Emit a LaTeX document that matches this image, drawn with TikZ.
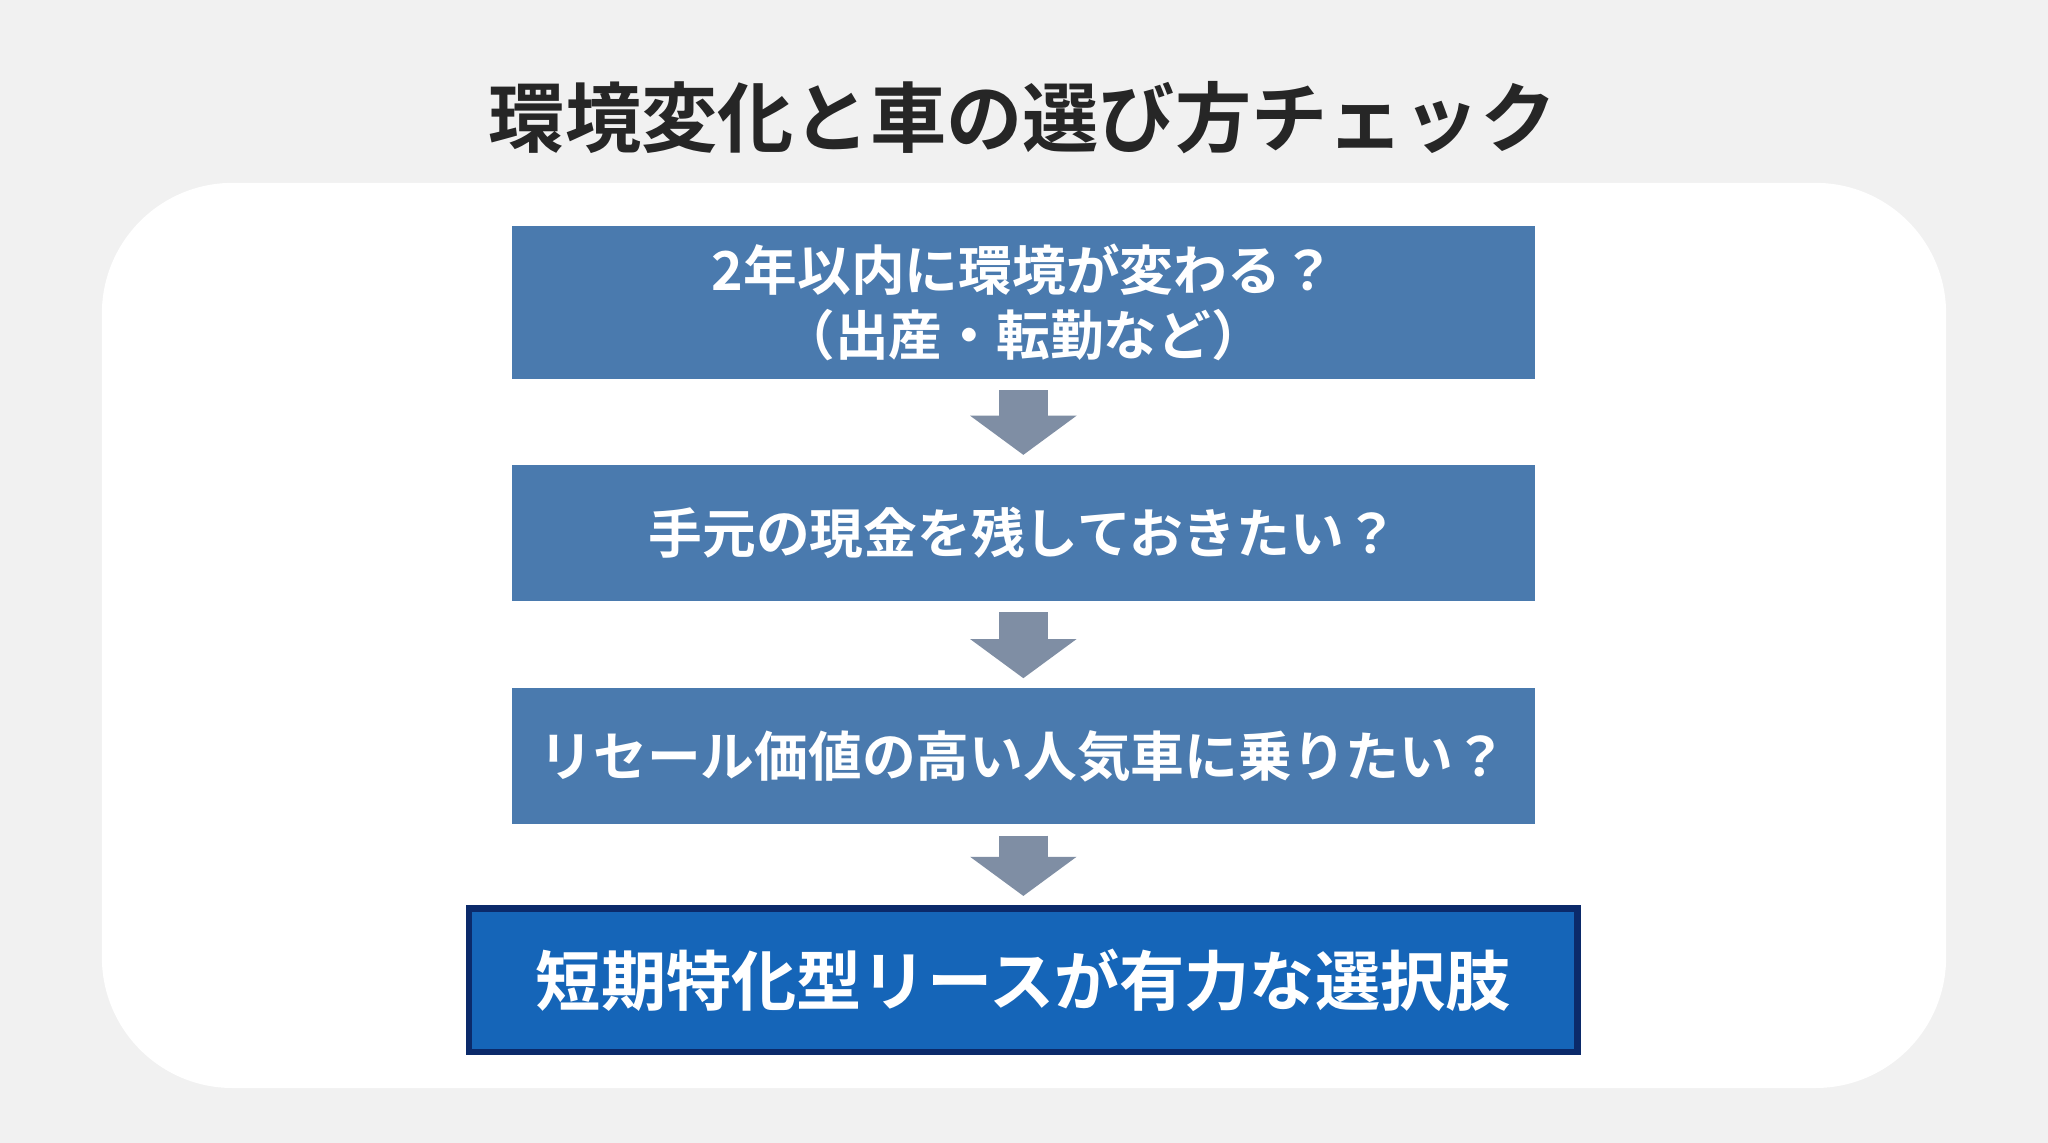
\documentclass[tikz,border=0pt]{standalone}
\usepackage{fontspec}
\setmainfont{Noto Sans CJK JP}[BoldFont={Noto Sans CJK JP Bold}]
\usetikzlibrary{arrows.meta,positioning}
\definecolor{bgGray}{HTML}{F1F1F1}
\definecolor{stepBlue}{HTML}{4A7AAE}
\definecolor{finalBlue}{HTML}{1565B8}
\definecolor{finalEdge}{HTML}{0B2A6A}
\definecolor{arrowGray}{HTML}{7F8EA4}
\definecolor{titleInk}{HTML}{262626}
\begin{document}
\begin{tikzpicture}[x=0.01cm,y=-0.01cm]
        \tikzset{stepbox/.style = {fill=stepBlue,text=white,font=\bfseries\fontsize{11.7}{14.2}\selectfont,
            minimum width=7.83cm,align=center,inner sep=0pt},
          flow/.style = {arrowGray,line width=0.38cm,shorten <=0.08cm,shorten >=0.07cm,
            -{Triangle[width=0.8cm,length=0.3cm]}}};
        \fill[bgGray] (0,0) rectangle (1568,875);
        \fill[white,rounded corners=1cm] (78,140) rectangle (1490,833);
        \node[font=\bfseries\fontsize{16.6}{20}\selectfont,text=titleInk] (title) at (783,90) {環境変化と車の選び方チェック};
        % questions
        \node[stepbox,minimum height=1.17cm] (q1) at (783.5,231.5) {2年以内に環境が変わる？\\（出産・転勤など）};
        \node[stepbox,minimum height=1.04cm] (q2) at (783.5,408) {手元の現金を残しておきたい？};
        \node[stepbox,minimum height=1.04cm] (q3) at (783.5,579) {リセール価値の高い人気車に乗りたい？};
        \node[fill=finalBlue,draw=finalEdge,line width=0.05cm,text=white,font=\bfseries\fontsize{14.2}{18}\selectfont,
            minimum width=8.48cm,minimum height=1.1cm] (res) at (783.5,750.5) {短期特化型リースが有力な選択肢};
        \draw[flow] (q1) -- (q2);
        \draw[flow] (q2) -- (q3);
        \draw[flow] (q3) -- (res);
\end{tikzpicture}
\end{document}
